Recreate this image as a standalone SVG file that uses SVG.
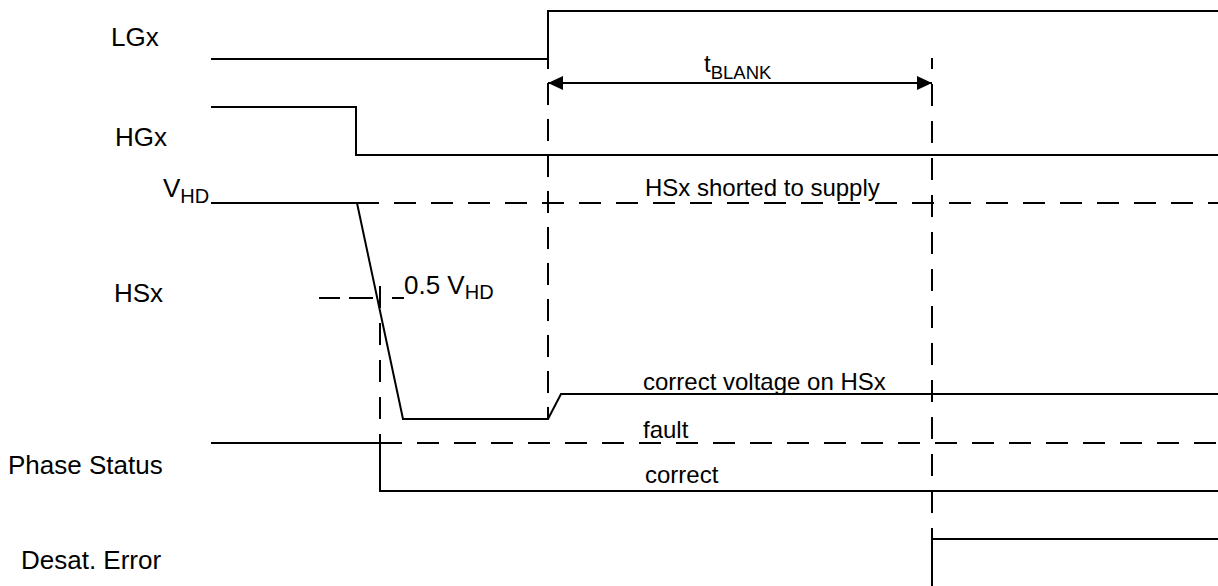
<svg xmlns="http://www.w3.org/2000/svg" width="1218" height="586" viewBox="0 0 1218 586">
<style>
.sig{fill:none;stroke:#000;stroke-width:2}
.dash{fill:none;stroke:#000;stroke-width:2;stroke-dasharray:22 15}
.lbl{font-family:"Liberation Sans",Arial,sans-serif;font-size:26px;fill:#000}
.in{font-family:"Liberation Sans",Arial,sans-serif;font-size:24px;fill:#000}
</style>
<defs>
<marker id="ah" viewBox="0 0 15 14" refX="15" refY="7" markerWidth="15" markerHeight="14" markerUnits="userSpaceOnUse" orient="auto-start-reverse">
<path d="M0,0 L15,7 L0,14 Z" fill="#000"/>
</marker>
</defs>
<rect width="1218" height="586" fill="#fff"/>
<g id="labels">
<text class="lbl" x="111" y="46">LGx</text>
<text class="lbl" x="115" y="146">HGx</text>
<text class="lbl" x="163" y="197">V<tspan font-size="20" dy="6">HD</tspan></text>
<text class="lbl" x="114" y="302">HSx</text>
<text class="lbl" x="8" y="474">Phase Status</text>
<text class="lbl" x="21" y="569">Desat. Error</text>
</g>
<g id="connectors">
<path class="dash" d="M357,203 H1218"/>
<path class="dash" d="M380,443 H1218"/>
<path class="sig" stroke-dasharray="21 9 24 19 12" d="M319,298 H405"/>
<path class="dash" style="stroke-dasharray:22 14" stroke-dashoffset="11" d="M548,58 V419"/>
<path class="dash" stroke-dashoffset="11" d="M932,58 V528"/>
<path class="dash" d="M380,286 V443"/>
<path class="sig" d="M548,83 H932" marker-start="url(#ah)" marker-end="url(#ah)"/>
</g>
<g id="LGx">
<path class="sig" d="M211,59 H548 V11 H1218"/>
</g>
<g id="HGx">
<path class="sig" d="M211,107 H356 V155 H1218"/>
</g>
<g id="HSx">
<path class="sig" d="M211,203 H357 L403,419 H548 L561,394 H1218"/>
</g>
<g id="PhaseStatus">
<path class="sig" d="M211,443 H380 V491 H1218"/>
</g>
<g id="DesatError">
<path class="sig" d="M932,586 V539 H1218"/>
<path class="sig" d="M932,539 V528"/>
</g>
<g id="annotations">
<text class="in" x="704" y="72">t<tspan font-size="18.5" dy="7">BLANK</tspan></text>
<text class="in" x="645" y="196">HSx shorted to supply</text>
<text class="lbl" x="404" y="294">0.5 V<tspan font-size="20" dy="5">HD</tspan></text>
<text class="in" x="643" y="390">correct voltage on HSx</text>
<text class="in" x="643" y="438">fault</text>
<text class="in" x="645" y="483">correct</text>
</g>
</svg>
